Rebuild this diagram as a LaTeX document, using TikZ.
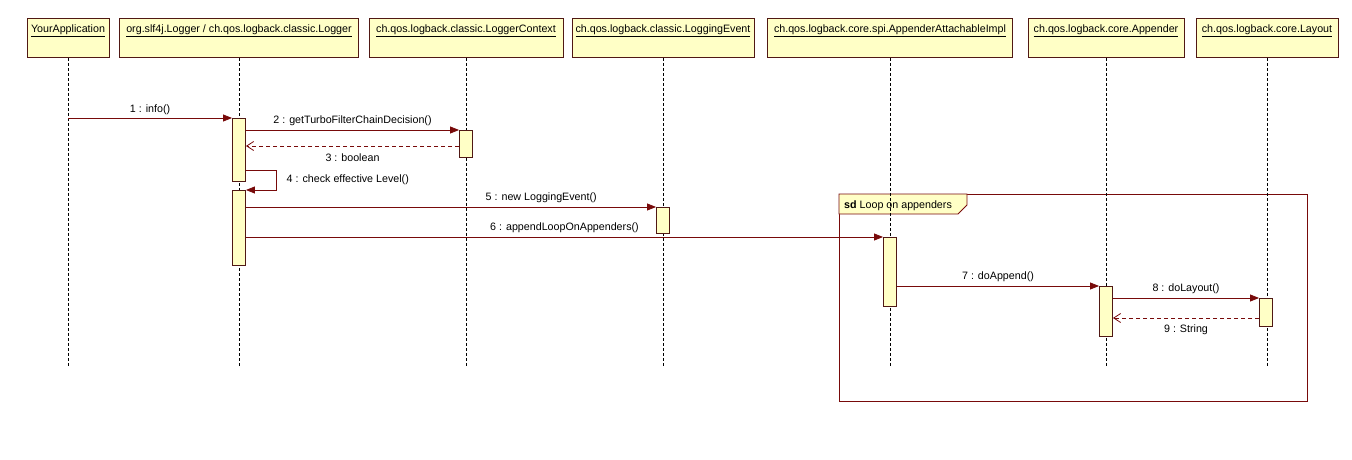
\documentclass[tikz,border=0pt]{standalone}
\usepackage{fontspec}
\setmainfont{Liberation Sans}
\usepackage{tikz}
\usetikzlibrary{arrows.meta, positioning, calc}
\definecolor{umlfill}{RGB}{255,255,198}
\definecolor{umlborder}{RGB}{80,24,20}
\definecolor{umlline}{RGB}{120,10,10}

\begin{document}
\begin{tikzpicture}[
    x=1pt, y=-1pt,
    font=\fontsize{10.7}{12}\selectfont,
    lifebox/.style={rectangle, draw=umlborder, fill=umlfill, line width=0.9pt, anchor=north, inner ysep=2pt, text height=12pt, text depth=23pt},
    actbox/.style={rectangle, draw=umlborder, fill=umlfill, line width=0.9pt, anchor=north, minimum width=13pt, inner sep=0pt},
    lifeline/.style={black, line width=0.8pt, dash pattern=on 3pt off 2pt},
    msg/.style={draw=umlline, text=black, line width=0.9pt, -{Triangle[length=9pt,width=7pt]}},
    ret/.style={draw=umlline, text=black, line width=0.8pt, dash pattern=on 4pt off 3pt, -{Straight Barb[length=7pt,width=9pt]}},
    frame/.style={draw=umlline, line width=0.9pt}
]
\useasboundingbox (0,0) rectangle (1352,460);

% Object headers
\node[lifebox, minimum width=82pt] (app) at (68,18) {\underline{YourApplication}};
\node[lifebox, minimum width=239pt] (logger) at (239,18) {\underline{org.slf4j.Logger / ch.qos.logback.classic.Logger}};
\node[lifebox, minimum width=194pt] (ctx) at (466,18) {\underline{ch.qos.logback.classic.LoggerContext}};
\node[lifebox, minimum width=182pt] (event) at (663,18) {\underline{ch.qos.logback.classic.LoggingEvent}};
\node[lifebox, minimum width=245pt] (attach) at (890,18) {\underline{ch.qos.logback.core.spi.AppenderAttachableImpl}};
\node[lifebox, minimum width=156pt] (appender) at (1106,18) {\underline{ch.qos.logback.core.Appender}};
\node[lifebox, minimum width=142pt] (layout) at (1267,18) {\underline{ch.qos.logback.core.Layout}};

% Loop frame
\node[frame, anchor=north west, minimum width=468pt, minimum height=207pt] (loop) at (839,194) {};
\draw[frame, fill=umlfill] (loop.north west) -- ++(128,0) -- ++(0,11) -- ++(-9,9) -- ++(-119,0) -- cycle;
\node[anchor=base west, inner sep=0pt] (looptag) at (844,208) {\textbf{sd} Loop on appenders};

% Lifelines
\foreach \obj in {app, logger, ctx, event, attach, appender, layout}
    \draw[lifeline] (\obj.south) -- (\obj.south |- 0,367);

% Activations
\node[actbox, minimum height=63pt] (actLog1) at (239,118) {};
\node[actbox, minimum height=75pt] (actLog2) at (239,190) {};
\node[actbox, minimum height=27pt] (actCtx) at (466,130) {};
\node[actbox, minimum height=26pt] (actEvt) at (663,207) {};
\node[actbox, minimum height=69pt] (actAtt) at (890,237) {};
\node[actbox, minimum height=50pt] (actApp) at (1106,286) {};
\node[actbox, minimum height=28pt] (actLay) at (1266,298) {};

% Messages
\draw[msg] (app.south |- actLog1.north) -- node[above] {1 : info()} (actLog1.north west);
\draw[msg] (actLog1.east |- actCtx.north) -- node[above] {2 : getTurboFilterChainDecision()} (actCtx.north west);
\draw[ret] (actCtx.west |- 0,146) -- node[below=4pt] {3 : boolean} (actLog1.east |- 0,146);
\draw[msg] (actLog1.east |- 0,170) -- ++(30,0) |- node[pos=0.25, right=7pt] {4 : check effective Level()} (actLog2.north east);
\draw[msg] (actLog2.east |- actEvt.north) -- node[above, pos=0.72] {5 : new LoggingEvent()} (actEvt.north west);
\draw[msg] (actLog2.east |- actAtt.north) -- node[above] {6 : appendLoopOnAppenders()} (actAtt.north west);
\draw[msg] (actAtt.east |- actApp.north) -- node[above] {7 : doAppend()} (actApp.north west);
\draw[msg] (actApp.east |- actLay.north) -- node[above] {8 : doLayout()} (actLay.north west);
\draw[ret] (actLay.west |- 0,318) -- node[below=3pt] {9 : String} (actApp.east |- 0,318);

\end{tikzpicture}
\end{document}
